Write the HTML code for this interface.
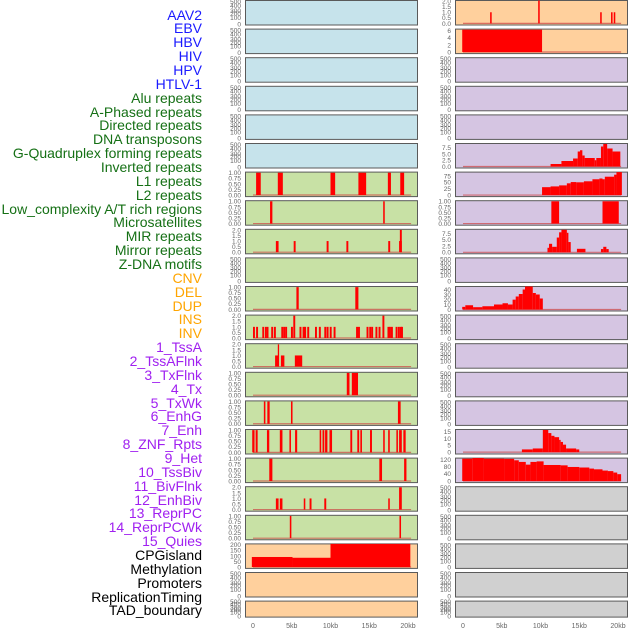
<!DOCTYPE html>
<html><head><meta charset="utf-8">
<style>
html,body{margin:0;padding:0;background:#fff;}
#wrap{position:relative;width:630px;height:630px;overflow:hidden;font-family:"Liberation Sans",sans-serif;}
.lbl{position:absolute;right:428px;font-size:14px;line-height:14px;white-space:nowrap;}
svg{position:absolute;left:0;top:0;}
</style></head>
<body>
<div id="wrap">
<div id="labels"></div>
<svg id="svg" width="630" height="630"></svg>
</div>
<script>
// ---- data ----
const trackNames = ["AAV2","EBV","HBV","HIV","HPV","HTLV-1","Alu repeats","A-Phased repeats","Directed repeats","DNA transposons","G-Quadruplex forming repeats","Inverted repeats","L1 repeats","L2 repeats","Low_complexity A/T rich regions","Microsatellites","MIR repeats","Mirror repeats","Z-DNA motifs","CNV","DEL","DUP","INS","INV","1_TssA","2_TssAFlnk","3_TxFlnk","4_Tx","5_TxWk","6_EnhG","7_Enh","8_ZNF_Rpts","9_Het","10_TssBiv","11_BivFlnk","12_EnhBiv","13_ReprPC","14_ReprPCWk","15_Quies","CPGisland","Methylation","Promoters","ReplicationTiming","TAD_boundary"];
const trackGroups = [0,0,0,0,0,0,1,1,1,1,1,1,1,1,1,1,1,1,1,2,2,2,2,2,3,3,3,3,3,3,3,3,3,3,3,3,3,3,3,4,4,4,4,4];
const xTickValues = [0,5,10,15,20];
const xTickLabels = ["0","5kb","10kb","15kb","20kb"];

// segments: [start kb, end kb, value]
const L6 = [[0.4,1.0,1],[3.2,3.85,1],[10.0,10.6,1],[13.6,14.6,1],[17.4,17.8,1],[19.0,19.5,1]];
const L7 = [[2.2,2.5,1],[16.8,17.0,1]];
const L8 = [[2.95,3.3,1],[5.25,5.5,1],[9.5,9.75,1],[12.05,12.3,1],[17.45,17.7,1],[18.85,19.2,1],[18.95,19.2,2]];
const L10 = [[5.6,5.9,1],[13.2,13.6,1]];
const L11 = [[0.0,0.25,1],[0.4,0.65,1],[1.2,1.45,1],[1.55,1.75,1],[1.75,2.0,1],[2.35,2.6,1],[2.7,2.95,1],[3.65,3.9,1],[3.9,4.15,1],[4.15,4.4,1],[4.9,5.15,1],[5.2,5.45,2],[6.0,6.25,1],[6.4,6.65,1],[6.6,6.85,1],[7.0,7.25,1],[8.0,8.25,1],[8.5,8.75,1],[9.2,9.45,1],[9.5,9.75,1],[9.9,10.15,1],[10.4,10.65,1],[13.3,13.55,1],[13.55,13.8,1],[14.65,14.9,1],[15.0,15.25,1],[15.25,15.5,1],[15.8,16.05,1],[16.2,16.45,1],[16.7,16.95,2],[17.35,17.6,1],[17.55,17.8,1],[17.8,18.05,1],[18.4,18.65,1],[18.7,18.95,1],[18.95,19.2,1],[19.1,19.35,1]];
const L12 = [[2.85,3.35,1],[3.2,3.35,2],[3.6,4.05,1],[5.4,6.35,1]];
const L13 = [[12.1,12.45,1],[12.75,13.55,1]];
const L14 = [[1.4,1.6,1],[1.85,2.15,1],[4.9,5.1,1],[18.7,19.05,1]];
const L15 = [[-0.1,0.2,1],[0.34,0.6,1],[1.8,2.1,1],[3.46,3.8,1],[4.7,4.9,1],[5.43,5.7,1],[8.6,8.8,1],[8.97,9.2,1],[9.3,9.6,1],[9.87,10.2,1],[12.56,12.8,1],[13.46,13.7,1],[13.85,14.06,1],[15.1,15.35,1],[16.8,17.0,1],[17.44,17.65,1],[18.5,18.7,1],[18.85,19.2,1],[19.4,19.7,1]];
const L16 = [[2.1,2.5,1],[16.3,16.65,1],[19.5,19.8,1]];
const L17 = [[2.95,3.3,1],[3.46,3.8,1],[6.55,6.75,1],[7.3,7.55,1],[9.2,9.45,1],[17.45,17.65,1],[18.85,19.2,2]];
const L18 = [[4.75,4.95,1],[18.9,19.1,1]];
const L19 = [[-0.15,5.1,90],[5.1,10.0,83],[10.0,20.3,210]];

const R0 = [[3.5,3.7,1],[9.7,9.9,2.2],[17.7,17.9,1],[19.1,19.3,1],[19.45,19.65,1]];
const R1 = [[-0.1,10.2,6.3]];
const R5 = [[11.3,12.7,1],[12.7,14.2,2.2],[14.2,14.8,3.2],[14.8,15.1,6.0],[15.1,15.4,6.5],[15.4,15.7,4.4],[15.7,17.0,3.4],[17.0,17.2,2.5],[17.2,17.8,3.4],[17.8,18.1,8.0],[18.1,18.6,9.0],[18.6,19.3,7.2],[19.3,20.3,6.0]];
const R6 = [[10.2,11.3,31],[11.3,12.4,34],[12.4,13.4,38],[13.4,13.9,46],[13.9,14.6,51],[14.6,15.6,50],[15.6,16.7,54],[16.7,17.6,62],[17.6,18.0,65],[18.0,18.3,62],[18.3,19.5,72],[19.5,19.8,80],[19.8,20.5,90]];
const R7 = [[11.4,12.4,1],[18.0,20.1,1]];
const R8 = [[10.9,11.1,1.8],[11.1,11.5,3.4],[11.5,12.1,2.2],[12.1,12.4,5.9],[12.4,12.7,8.0],[12.7,13.4,9.0],[13.4,13.6,7.8],[13.6,13.9,4.1],[14.7,15.8,1.4],[17.8,18.1,1.3],[18.1,18.5,2.2],[18.5,18.8,1.3]];
const R10 = [[-0.1,0.3,5.3],[0.3,1.3,8.5],[1.3,2.5,4.6],[2.5,4.0,6.5],[4.0,5.1,10],[5.1,5.8,12.5],[5.8,6.4,10],[6.4,6.8,19.7],[6.8,7.2,26],[7.2,7.7,31],[7.7,8.0,40],[8.0,9.0,46],[9.0,9.4,33],[9.4,9.9,30],[9.9,10.3,22]];
const R15 = [[7.6,9.0,2],[9.0,10.3,2.7],[10.3,11.0,16.3],[11.0,11.4,14],[11.4,11.8,12],[11.8,12.4,11],[12.4,12.6,9],[12.6,12.9,7.5],[12.9,13.3,5.5],[13.3,14.6,2.7],[14.6,15.0,2]];
const R16 = [[-0.1,1.2,124],[1.2,2.7,128],[2.7,5.3,124],[5.3,6.6,123],[6.6,7.2,115],[7.2,8.1,106],[8.1,8.7,91],[8.7,9.5,106],[9.5,10.4,109],[10.4,12.6,89],[12.6,13.5,87],[13.5,15.0,78],[15.0,16.3,75],[16.3,16.9,69],[16.9,18.0,65],[18.0,18.7,58],[18.7,19.4,55],[19.4,19.9,47],[19.9,20.4,38]];

// tick sets
const T_EMPTY = ["500","400","300","200","100","0"];
const T_BIN = [0,0.25,0.5,0.75,1.0];
const T_2 = [0,0.5,1.0,1.5,2.0];

// ---- layout ----
const BG = {b:"#c6e3eb",g:"#c8e1a5",o:"#ffd09d",p:"#d5c5e2",k:"#d0d0d0"};
const leftCfg = [
 ["b",null],["b",null],["b",null],["b",null],["b",null],["b",null],
 ["g","bin",L6],["g","bin",L7],["g","two",L8],["g",null],["g","bin",L10],["g","two",L11],["g","two",L12],
 ["g","bin",L13],["g","bin",L14],["g","bin",L15],["g","bin",L16],["g","two",L17],["g","bin",L18],
 ["o","cpg",L19],["o",null],["o",null]
];
const rightCfg = [
 ["o","two",R0],["o","six",R1],["p",null],["p",null],["p",null],["p","g4",R5],["p","l1",R6],["p","bin",R7],["p","g4",R8],["p",null],
 ["p","forty",R10],["p",null],["p",null],["p",null],["p",null],["p","fifteen",R15],["p","onetwenty",R16],
 ["k",null],["k",null],["k",null],["k",null],["k",null]
];
const SCALES = {
 bin:{min:-0.05,max:1.05,ticks:T_BIN,fmt:v=>v.toFixed(2)},
 two:{min:-0.1,max:2.1,ticks:T_2,fmt:v=>v.toFixed(1)},
 six:{min:-0.3,max:6.6,ticks:[0,2,4,6],fmt:v=>String(v)},
 g4:{min:-0.4,max:9.4,ticks:[0,2.5,5,7.5],fmt:v=>v.toFixed(1)},
 l1:{min:-4,max:92,ticks:[0,25,50,75],fmt:v=>String(v)},
 forty:{min:-2,max:47,ticks:[0,10,20,30,40],fmt:v=>String(v)},
 fifteen:{min:-1,max:17,ticks:[0,5,10,15],fmt:v=>String(v)},
 onetwenty:{min:-6,max:130,ticks:[0,40,80,120],fmt:v=>String(v)},
 cpg:{min:-8,max:212,ticks:[0,50,100,150,200],fmt:v=>String(v)}
};
const NS="http://www.w3.org/2000/svg";
const svg=document.getElementById('svg');
function mk(tag,attrs){const e=document.createElementNS(NS,tag);for(const k in attrs)e.setAttribute(k,attrs[k]);svg.appendChild(e);return e;}
function rowTop(i){return i*28.6;}
function rowH(i){return i===21?16:24.5;}
const COLS=[{x0:245,x1:417,zero:253,side:"left"},{x0:455,x1:627,zero:463,side:"right"}];
const PXKB=7.75;
function xScale(col,kb){return col.zero+kb*PXKB;}

function drawPanel(col,i,cfg){
 const top=rowTop(i),h=rowH(i);
 const r=mk('rect',{x:col.x0+0.5,y:top+0.5,width:col.x1-col.x0,height:h,fill:BG[cfg[0]],stroke:"#5a5a5a","stroke-width":1});
 
 
 const tx=col.x0-4;
 if(!cfg[1]){
  const fr=[0.06,0.22,0.42,0.56,0.72,0.97];
  T_EMPTY.forEach((t,k)=>{
   const el=mk('text',{x:tx,y:top+fr[k]*h+2.5,'font-size':6.5,fill:"#666",'text-anchor':'end'});
   el.textContent=t;
   
   
  });
  return;
 }
 const s=SCALES[cfg[1]];
 const y=v=>top+h-(v-s.min)/(s.max-s.min)*h;
 s.ticks.forEach(t=>{
  const el=mk('text',{x:tx,y:y(t)+2.4,'font-size':6.5,fill:"#666",'text-anchor':'end'});
  el.textContent=s.fmt(t);
  
  
 });
 // baseline
 const bl=mk('line',{x1:xScale(col,0),x2:xScale(col,20.4),y1:y(0),y2:y(0),stroke:"#c44",'stroke-width':1.2,'stroke-opacity':0.7});
 
 
 cfg[2].forEach(seg=>{
  const x1=xScale(col,seg[0]),x2=xScale(col,seg[1]);
  const yt=Math.max(y(seg[2]),top+0.5);
  const b=mk('rect',{x:x1,y:yt,width:Math.max(x2-x1,1.3),height:y(0)-yt,fill:"#ff0000"});
  
  
 });
}
leftCfg.forEach((c,i)=>drawPanel(COLS[0],i,c));
rightCfg.forEach((c,i)=>drawPanel(COLS[1],i,c));
COLS.forEach(col=>{
 xTickValues.forEach((v,k)=>{
  const el=mk('text',{x:xScale(col,v),y:628,'font-size':7,fill:"#666",'text-anchor':'middle'});
  el.textContent=xTickLabels[k];
  
  
 });
});
// labels
const GCOL=["#1a1aff","#157015","#ffa500","#a020f0","#000000"];
const lab=document.getElementById('labels');
trackNames.forEach((n,i)=>{
 const d=document.createElement('div');
 d.className='lbl';
 d.style.top=(15+i*13.86-7.5)+'px';
 d.style.color=GCOL[trackGroups[i]];
 d.textContent=n;
 
 
 lab.appendChild(d);
});
</script>
</body></html>
